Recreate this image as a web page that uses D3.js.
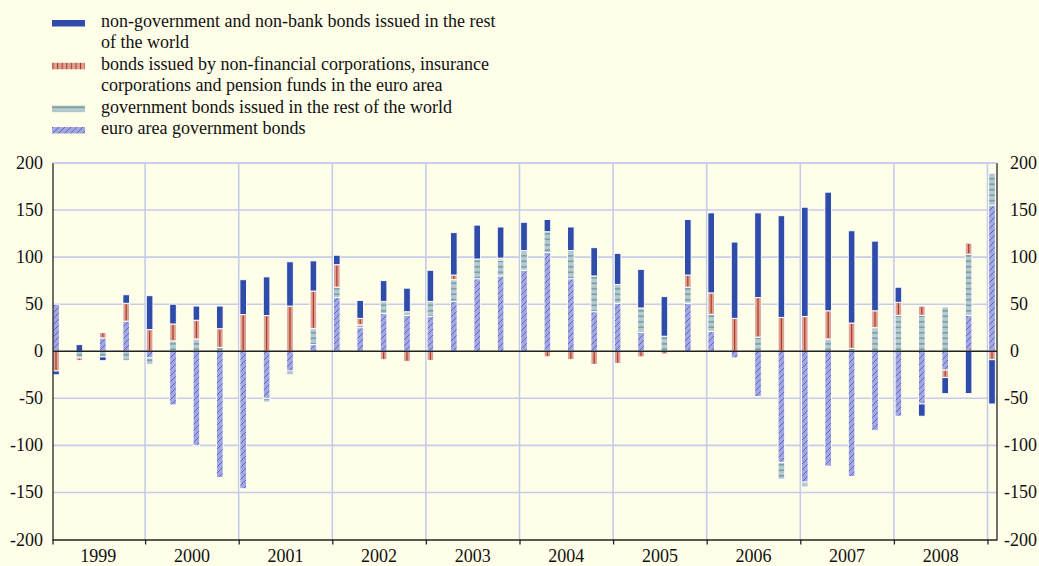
<!DOCTYPE html>
<html>
<head>
<meta charset="utf-8">
<script src="https://cdn.jsdelivr.net/npm/d3@7"></script>
<style>
  body { margin: 0; background: #fffee9; }
  svg { display: block; font-family: "Liberation Serif", "Times New Roman", serif; }
</style>
</head>
<body>
<script>
// quarters 1999Q1 .. 2009Q1
var quarters = ["1999Q1","1999Q2","1999Q3","1999Q4","2000Q1","2000Q2","2000Q3","2000Q4",
  "2001Q1","2001Q2","2001Q3","2001Q4","2002Q1","2002Q2","2002Q3","2002Q4",
  "2003Q1","2003Q2","2003Q3","2003Q4","2004Q1","2004Q2","2004Q3","2004Q4",
  "2005Q1","2005Q2","2005Q3","2005Q4","2006Q1","2006Q2","2006Q3","2006Q4",
  "2007Q1","2007Q2","2007Q3","2007Q4","2008Q1","2008Q2","2008Q3","2008Q4","2009Q1"];
var years = ["1999","2000","2001","2002","2003","2004","2005","2006","2007","2008"];
var yTicks = [-200,-150,-100,-50,0,50,100,150,200];

// euro area government bonds
var euroGov = [50,0,14,32, -7,-57,-100,-134, -146,-50,-21,7, 57,25,40,38,
  37,53,77,80, 86,105,77,42, 51,20,0,51, 21,-7,-48,-118, -139,-122,-133,-84, -69,-56,-20,38, 155];
// government bonds issued in the rest of the world
var govRow = [0,-7,-6,-10, -7,11,13,4, 0,-4,-4,17, 11,3,13,4,
  16,23,21,17, 21,22,30,38, 20,26,16,17, 18,0,15,-18, -5,13,3,25, 38,38,47,65, 34];
// bonds issued by NFCs, ICs and pension funds in the euro area
var corp = [-21,-3,6,19, 23,18,20,20, 39,38,48,40, 24,7,-9,-11,
  -10,5,0,2, 0,-6,-9,-14, -13,-6,-3,13, 23,35,42,36, 37,30,27,18, 14,10,-8,12, -9];
// non-government and non-bank bonds issued in the rest of the world
var nonGov = [-4,7,-4,9, 36,21,15,24, 37,41,47,32, 10,19,22,25,
  33,45,36,33, 30,13,25,30, 33,41,42,59, 85,81,90,108, 116,126,98,74, 16,-13,-17,-45, -47];

var keys = ["euroGov","govRow","corp","nonGov"];
var legendText = [
  ["non-government and non-bank bonds issued in the rest", "of the world"],
  ["bonds issued by non-financial corporations, insurance", "corporations and pension funds in the euro area"],
  ["government bonds issued in the rest of the world"],
  ["euro area government bonds"]
];
var legendKeys = ["nonGov","corp","govRow","euroGov"];

var rows = quarters.map(function(q, i) {
  return {q: q, euroGov: euroGov[i], govRow: govRow[i], corp: corp[i], nonGov: nonGov[i]};
});

var width = 1039, height = 566;
var plotL = 53, plotR = 997, plotT = 163, plotB = 539.5;

var svg = d3.select("body").append("svg").attr("width", width).attr("height", height);

// patterns
var defs = svg.append("defs");
var ph = defs.append("pattern").attr("id", "hatch").attr("patternUnits", "userSpaceOnUse")
  .attr("width", 6).attr("height", 6);
ph.append("rect").attr("width", 6).attr("height", 6).attr("fill", "#a3a7e0");
ph.append("path").attr("d", "M0,6 L6,0 M-1,1 L1,-1 M5,7 L7,5").attr("stroke", "#3f4db3").attr("stroke-width", 0.7);

var pt = defs.append("pattern").attr("id", "hstripe").attr("patternUnits", "userSpaceOnUse")
  .attr("width", 6).attr("height", 5.5);
pt.append("rect").attr("width", 6).attr("height", 5.5).attr("fill", "#b6cacd");
pt.append("rect").attr("y", 2.2).attr("width", 6).attr("height", 1.2).attr("fill", "#5f8d99");

var pv = defs.append("pattern").attr("id", "vstripe").attr("patternUnits", "userSpaceOnUse")
  .attr("width", 4.6).attr("height", 6);
pv.append("rect").attr("width", 4.6).attr("height", 6).attr("fill", "#dba28f");
pv.append("rect").attr("x", 1.8).attr("width", 1.1).attr("height", 6).attr("fill", "#b3382b");

var fills = {euroGov: "url(#hatch)", govRow: "url(#hstripe)", corp: "#dba28f", nonGov: "#2e4ca8"};
var legendFills = {euroGov: "url(#hatch)", govRow: "url(#hstripe)", corp: "url(#vstripe)", nonGov: "#2e4ca8"};

var y = d3.scaleLinear().domain([-200, 200]).range([plotB, plotT]);
var x = d3.scaleLinear().domain([0, 40]).range([52.3, 988.3]);
var barW = 6.6;

// gridlines
var grid = svg.append("g");
grid.selectAll("line.h").data(yTicks.filter(function(d) { return d !== 0 && d !== -200; }))
  .enter().append("line")
  .attr("x1", plotL).attr("x2", plotR)
  .attr("y1", function(d) { return y(d); }).attr("y2", function(d) { return y(d); })
  .attr("stroke", "#c6cbea").attr("stroke-width", 1.6);
var yearEdges = d3.range(0, 44, 4);
grid.selectAll("line.v").data(yearEdges.slice(1))
  .enter().append("line")
  .attr("x1", function(d) { return x(d) - 0.8; }).attr("x2", function(d) { return x(d) - 0.8; })
  .attr("y1", plotT).attr("y2", plotB)
  .attr("stroke", "#c6cbea").attr("stroke-width", 1.6);

// stacked bars
var series = d3.stack().keys(keys).offset(d3.stackOffsetDiverging)(rows);
var g = svg.append("g");
series.forEach(function(s) {
  var grp = g.append("g");
  var segs = s.filter(function(d) { return d[1] - d[0] !== 0; });
  grp.selectAll("rect").data(segs)
    .enter().append("rect")
    .attr("x", function(d) { return x(quarters.indexOf(d.data.q)) + 0.4; })
    .attr("width", barW)
    .attr("y", function(d) { return y(Math.max(d[0], d[1])); })
    .attr("height", function(d) { return Math.abs(y(d[0]) - y(d[1])); })
    .attr("fill", fills[s.key])
    .attr("stroke", "#ffffff").attr("stroke-width", 0.9);
  if (s.key === "corp") {
    grp.selectAll("line").data(segs)
      .enter().append("line")
      .attr("x1", function(d) { return x(quarters.indexOf(d.data.q)) + 0.4 + barW / 2; })
      .attr("x2", function(d) { return x(quarters.indexOf(d.data.q)) + 0.4 + barW / 2; })
      .attr("y1", function(d) { return y(Math.max(d[0], d[1])) + 1; })
      .attr("y2", function(d) { return y(Math.min(d[0], d[1])) - 1; })
      .attr("stroke", "#b3382b").attr("stroke-width", 1.2);
  }
});

// axes frame
svg.append("line").attr("x1", plotL).attr("x2", plotR).attr("y1", y(0)).attr("y2", y(0))
  .attr("stroke", "#222").attr("stroke-width", 1.5);
svg.append("line").attr("x1", plotL).attr("x2", plotL).attr("y1", plotT).attr("y2", plotB + 1)
  .attr("stroke", "#222").attr("stroke-width", 1.3);
svg.append("line").attr("x1", plotR).attr("x2", plotR).attr("y1", plotT).attr("y2", plotB + 1)
  .attr("stroke", "#222").attr("stroke-width", 1.3);
svg.append("line").attr("x1", plotL).attr("x2", plotR).attr("y1", plotB + 0.5).attr("y2", plotB + 0.5)
  .attr("stroke", "#222").attr("stroke-width", 1.5);
svg.append("line").attr("x1", plotL).attr("x2", plotR).attr("y1", plotT).attr("y2", plotT)
  .attr("stroke", "#c6cbea").attr("stroke-width", 1.6);

// bottom ticks at year edges
svg.selectAll("line.tick").data(yearEdges)
  .enter().append("line")
  .attr("x1", function(d) { return d === 0 ? plotL : x(d) - 0.3; })
  .attr("x2", function(d) { return d === 0 ? plotL : x(d) - 0.3; })
  .attr("y1", plotB).attr("y2", plotB + 5)
  .attr("stroke", "#222").attr("stroke-width", 1.3);

// y labels
svg.selectAll("text.yl").data(yTicks).enter().append("text")
  .attr("x", 43).attr("y", function(d) { return y(d) + 6; })
  .attr("text-anchor", "end").attr("font-size", 18).attr("fill", "#111")
  .text(function(d) { return d; });
svg.selectAll("text.yr").data(yTicks).enter().append("text")
  .attr("x", function(d) { return d < 0 ? 1004 : 1010; })
  .attr("y", function(d) { return y(d) + 6; })
  .attr("font-size", 18).attr("fill", "#111")
  .text(function(d) { return d; });

// year labels
svg.selectAll("text.year").data(years).enter().append("text")
  .attr("x", function(d, i) { return (x(i * 4) + x(i * 4 + 4)) / 2 - 0.8; })
  .attr("y", 562)
  .attr("text-anchor", "middle").attr("font-size", 18).attr("fill", "#111")
  .text(function(d) { return d; });

// legend
var lineH = 21.4;
var ly = 27;
var legend = svg.append("g");
legendKeys.forEach(function(k, i) {
  var lines = legendText[i];
  legend.append("rect").attr("x", 52).attr("y", ly - 7).attr("width", 33).attr("height", 6.5)
    .attr("fill", legendFills[k]);
  lines.forEach(function(t, j) {
    legend.append("text").attr("x", 101).attr("y", ly + j * lineH)
      .attr("font-size", 18).attr("fill", "#111").text(t);
  });
  ly += lines.length * lineH;
});
</script>
</body>
</html>
